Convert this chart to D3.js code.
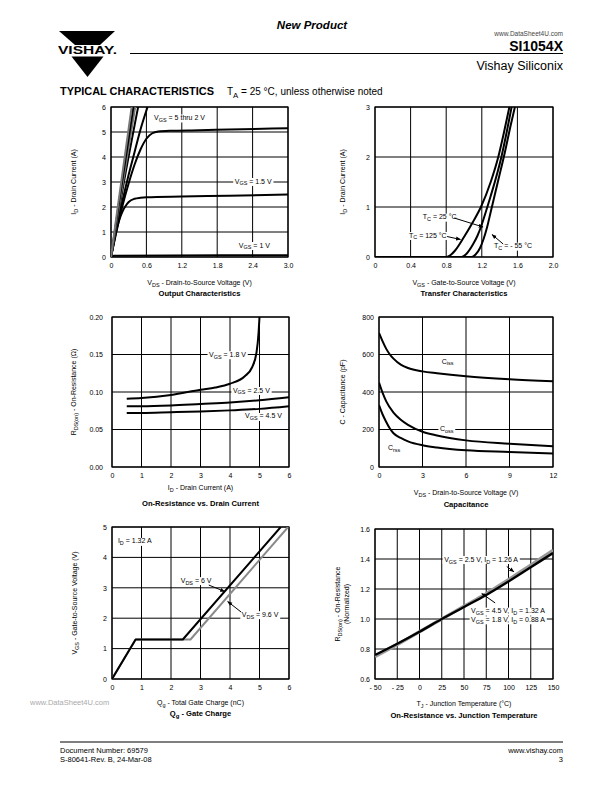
<!DOCTYPE html>
<html><head><meta charset="utf-8">
<script src="https://cdn.jsdelivr.net/npm/d3@7"></script>
<style>body{margin:0;background:#fff} svg{display:block}</style>
</head><body>
<svg id="page" width="612" height="792"></svg>
<script>
// ---------- DATA ----------
// Output characteristics (VDS V, ID A)
const outVgs5  = [[0,0],[0.1,1.75],[0.2,3.45],[0.35,6]];
const outVgs45 = [[0,0],[0.1,1.6],[0.2,3.2],[0.38,6]];
const outVgs35 = [[0,0],[0.1,1.5],[0.2,2.95],[0.41,6]];
const outVgs25 = [[0,0],[0.1,1.4],[0.2,2.75],[0.46,6]];
const outVgs2  = [[0,0],[0.1,1.2],[0.2,2.3],[0.3,3.3],[0.4,4.2],[0.5,5.1],[0.62,6]];
const outVgs18 = [[0,0],[0.1,1.1],[0.2,2.1],[0.3,2.95],[0.4,3.7],[0.5,4.3],[0.6,4.73],[0.7,4.95],[0.8,5.02],[1.0,5.05],[1.5,5.07],[2.0,5.1],[3.0,5.15]];
const outVgs15 = [[0,0],[0.05,0.6],[0.1,1.15],[0.15,1.55],[0.2,1.85],[0.25,2.05],[0.3,2.2],[0.4,2.33],[0.5,2.37],[0.6,2.39],[1.2,2.42],[2.0,2.45],[3.0,2.5]];
const outVgs1  = [[0,0],[0.05,0.05],[1.0,0.06],[3.0,0.07]];
const outXTicks = [0,0.6,1.2,1.8,2.4,3.0];
const outXLabels = ["0","0.6","1.2","1.8","2.4","3.0"];
const outYTicks = [0,1,2,3,4,5,6];

// Transfer characteristics (VGS V, ID A)
const tr125 = [[0,0],[0.8,0],[0.85,0.04],[0.9,0.13],[1.0,0.4],[1.1,0.7],[1.19,1.0],[1.3,1.5],[1.385,2.0],[1.45,2.5],[1.51,3.0]];
const tr25  = [[0,0],[0.97,0],[1.02,0.05],[1.1,0.25],[1.15,0.42],[1.2,0.65],[1.25,0.93],[1.3,1.22],[1.42,2.0],[1.48,2.5],[1.535,3.0]];
const trM55 = [[0,0],[1.085,0],[1.13,0.05],[1.18,0.18],[1.22,0.36],[1.26,0.6],[1.3,0.9],[1.38,1.5],[1.46,2.1],[1.52,2.6],[1.572,3.0]];
const trXTicks = [0,0.4,0.8,1.2,1.6,2.0];
const trXLabels = ["0","0.4","0.8","1.2","1.6","2.0"];
const trYTicks = [0,1,2,3];

// On-resistance vs drain current (ID A, RDS ohm)
const rds18 = [[0.5,0.091],[1,0.092],[2,0.096],[3,0.103],[3.5,0.106],[4,0.111],[4.5,0.121],[4.75,0.133],[4.9,0.153],[4.97,0.18],[5.0,0.20]];
const rds25 = [[0.5,0.081],[1,0.081],[2,0.082],[3,0.084],[4,0.086],[5,0.089],[6,0.093]];
const rds45 = [[0.5,0.072],[1,0.072],[2,0.073],[3,0.074],[4,0.0755],[5,0.0775],[6,0.081]];
const rdsXTicks = [0,1,2,3,4,5,6];
const rdsYTicks = [0,0.05,0.10,0.15,0.20];
const rdsYLabels = ["0.00","0.05","0.10","0.15","0.20"];

// Capacitance (VDS V, C pF)
const ciss = [[0,715],[0.25,670],[0.5,630],[0.75,600],[1,578],[1.5,546],[2,528],[3,510],[4,500],[6,484],[9,468],[12,457]];
const coss = [[0,450],[0.25,395],[0.5,350],[1,290],[1.5,252],[2,225],[3,188],[4,168],[6,142],[9,124],[12,110]];
const crss = [[0,330],[0.25,280],[0.5,240],[0.75,205],[1,180],[1.5,155],[2,137],[3,116],[4,104],[6,89],[9,80],[12,72]];
const capXTicks = [0,3,6,9,12];
const capYTicks = [0,200,400,600,800];

// Gate charge (Qg nC, VGS V)
const gcVds6  = [[0,0],[0.8,1.3],[2.4,1.3],[5.72,5]];
const gcVds96 = [[0,0],[0.8,1.3],[2.66,1.3],[5.97,5]];
const gcXTicks = [0,1,2,3,4,5,6];
const gcYTicks = [0,1,2,3,4,5];

// On-resistance vs junction temperature (TJ °C, normalized)
const tjVgs45 = [[-50,0.76],[-25,0.835],[0,0.915],[25,1.0],[50,1.08],[75,1.16],[100,1.25],[125,1.345],[150,1.44]];
const tjVgs25 = [[-50,0.75],[-25,0.83],[0,0.915],[25,1.0],[50,1.085],[75,1.17],[100,1.262],[125,1.36],[150,1.458]];
const tjXTicks = [-50,-25,0,25,50,75,100,125,150];
const tjXLabels = ["- 50","- 25","0","25","50","75","100","125","150"];
const tjYTicks = [0.6,0.8,1.0,1.2,1.4,1.6];
const tjYLabels = ["0.6","0.8","1.0","1.2","1.4","1.6"];

// ---------- DRAWING ----------
const FONT = "'Liberation Sans', Arial, Helvetica, sans-serif";
const svg = d3.select('#page');
const defs = svg.append('defs');
defs.append('marker').attr('id','arr').attr('viewBox','0 0 10 10').attr('refX',9).attr('refY',5)
  .attr('markerWidth',5).attr('markerHeight',5).attr('orient','auto')
  .append('path').attr('d','M0,1 L10,5 L0,9 z').attr('fill','#000');

function rich(g, str, fs, opts = {}) {
  const t = g.append('text').attr('font-size', fs).attr('font-family', FONT).attr('fill', opts.fill || '#000');
  if (opts.weight) t.attr('font-weight', opts.weight);
  if (opts.style) t.attr('font-style', opts.style);
  if (opts.anchor) t.attr('text-anchor', opts.anchor);
  const parts = str.split(/(_\{[^}]*\})/).filter(p => p.length);
  let low = false;
  parts.forEach(p => {
    if (p.startsWith('_{')) {
      t.append('tspan').attr('font-size', fs * 0.78).attr('dy', fs * 0.28).text(p.slice(2, -1));
      low = true;
    } else {
      const s = t.append('tspan').text(p);
      if (low) { s.attr('dy', -fs * 0.28); low = false; }
    }
  });
  return t;
}

function label(g, x, y, str, fs, anchor, bg) {
  const t = rich(g, str, fs, {anchor: anchor || 'start'}).attr('x', x).attr('y', y);
  if (bg) {
    const b = t.node().getBBox();
    g.insert('rect', () => t.node()).attr('x', b.x - 1.5).attr('y', b.y + 0.5)
      .attr('width', b.width + 3).attr('height', b.height - 1).attr('fill', '#fff');
  }
  return t;
}

function buildChart(c) {
  const g = svg.append('g');
  const x = d3.scaleLinear().domain(c.xDomain).range([c.left, c.right]);
  const y = d3.scaleLinear().domain(c.yDomain).range([c.bottom, c.top]);
  g.append('g').selectAll('line').data(c.xTicks).join('line')
    .attr('x1', d => x(d)).attr('x2', d => x(d)).attr('y1', c.top).attr('y2', c.bottom)
    .attr('stroke', '#000').attr('stroke-width', 1);
  g.append('g').selectAll('line').data(c.yTicks).join('line')
    .attr('y1', d => y(d)).attr('y2', d => y(d)).attr('x1', c.left).attr('x2', c.right)
    .attr('stroke', '#000').attr('stroke-width', 1);
  g.append('rect').attr('x', c.left).attr('y', c.top).attr('width', c.right - c.left)
    .attr('height', c.bottom - c.top).attr('fill', 'none').attr('stroke', '#000').attr('stroke-width', 1.2);
  const xl = c.xLabels || c.xTicks.map(String);
  const yl = c.yLabels || c.yTicks.map(String);
  const ax = g.append('g').attr('transform', `translate(0,${c.bottom})`)
    .call(d3.axisBottom(x).tickValues(c.xTicks).tickFormat((d, i) => xl[i]).tickSize(0).tickPadding(c.xPad || 6));
  ax.select('.domain').remove();
  ax.attr('font-size', 7).attr('font-family', FONT);
  const ay = g.append('g').attr('transform', `translate(${c.left},0)`)
    .call(d3.axisLeft(y).tickValues(c.yTicks).tickFormat((d, i) => yl[i]).tickSize(0).tickPadding(c.yPad || 5));
  ay.select('.domain').remove();
  ay.attr('font-size', 7).attr('font-family', FONT);
  // titles
  const cx = (c.left + c.right) / 2;
  rich(g, c.xTitle, 7, {anchor: 'middle'}).attr('x', cx + (c.xTitleDx || 0)).attr('y', c.xTitleY);
  rich(g, c.title, 7.6, {anchor: 'middle', weight: 'bold'}).attr('x', cx + (c.titleDx || 0)).attr('y', c.titleY);
  const cy = (c.top + c.bottom) / 2;
  c.yTitle.forEach((s, i) => {
    rich(g, s, 7, {anchor: 'middle'}).attr('transform', `translate(${c.yTitleX[i]},${cy}) rotate(-90)`);
  });
  const id = 'clip' + c.id;
  defs.append('clipPath').attr('id', id).append('rect')
    .attr('x', c.left).attr('y', c.top).attr('width', c.right - c.left).attr('height', c.bottom - c.top);
  const labels = g.append('g');
  const plot = g.append('g').attr('clip-path', `url(#${id})`);
  const ann = g.append('g');
  return {g, x, y, plot, labels, ann};
}

function series(ch, data, color, width, curve) {
  const line = d3.line().x(d => ch.x(d[0])).y(d => ch.y(d[1])).curve(curve || d3.curveMonotoneX);
  ch.plot.append('path').datum(data).attr('d', line).attr('fill', 'none')
    .attr('stroke', color).attr('stroke-width', width).attr('stroke-linejoin', 'round');
}
function lab(ch, dx, dy, str, anchor, bg) { return label(ch.labels, ch.x(dx), ch.y(dy), str, 7, anchor, bg); }
function arrow(ch, a, b) {
  ch.ann.append('line').attr('x1', ch.x(a[0])).attr('y1', ch.y(a[1])).attr('x2', ch.x(b[0])).attr('y2', ch.y(b[1]))
    .attr('stroke', '#000').attr('stroke-width', 1).attr('marker-end', 'url(#arr)');
}

// ---- Chart 1: Output characteristics
const c1 = buildChart({id: 1, left: 111, right: 288, top: 107, bottom: 257, xDomain: [0, 3], yDomain: [0, 6],
  xTicks: outXTicks, xLabels: outXLabels, yTicks: outYTicks,
  xTitle: 'V_{DS} - Drain-to-Source Voltage (V)', xTitleY: 285, title: 'Output Characteristics', titleY: 296,
  yTitle: ['I_{D} - Drain Current (A)'], yTitleX: [76]});
lab(c1, 0.73, 5.48, 'V_{GS} = 5 thru 2 V', 'start', true);
lab(c1, 2.41, 2.94, 'V_{GS} = 1.5 V', 'middle', true);
lab(c1, 2.43, 0.38, 'V_{GS} = 1 V', 'middle', true);
series(c1, outVgs1, '#000', 2);
series(c1, outVgs15, '#000', 2);
series(c1, outVgs18, '#000', 2);
series(c1, outVgs2, '#000', 2);
series(c1, outVgs25, '#000', 2);
series(c1, outVgs35, '#777', 2);
series(c1, outVgs45, '#000', 2);
series(c1, outVgs5, '#777', 2);

// ---- Chart 2: Transfer characteristics
const c2 = buildChart({id: 2, left: 375, right: 553, top: 107, bottom: 257, xDomain: [0, 2], yDomain: [0, 3],
  xTicks: trXTicks, xLabels: trXLabels, yTicks: trYTicks,
  xTitle: 'V_{GS} - Gate-to-Source Voltage (V)', xTitleY: 285, title: 'Transfer Characteristics', titleY: 296,
  yTitle: ['I_{D} - Drain Current (A)'], yTitleX: [345]});
lab(c2, 0.536, 0.756, 'T_{C} = 25 °C', 'start', true);
lab(c2, 0.382, 0.39, 'T_{C} = 125 °C', 'start', true);
lab(c2, 1.337, 0.176, 'T_{C} = - 55 °C', 'start', true);
series(c2, trM55, '#000', 2);
series(c2, tr25, '#000', 2);
series(c2, tr125, '#000', 2);
arrow(c2, [0.89, 0.78], [1.215, 0.6]);
arrow(c2, [0.81, 0.41], [0.96, 0.35]);
arrow(c2, [1.44, 0.26], [1.315, 0.45]);

// ---- Chart 3: On-resistance vs drain current
const c3 = buildChart({id: 3, left: 112, right: 289, top: 317, bottom: 467, xDomain: [0, 6], yDomain: [0, 0.2],
  xTicks: rdsXTicks, yTicks: rdsYTicks, yLabels: rdsYLabels, yPad: 9,
  xTitle: 'I_{D} - Drain Current (A)', xTitleY: 490, title: 'On-Resistance vs. Drain Current', titleY: 506,
  yTitle: ['R_{DS(on)} - On-Resistance (Ω)'], yTitleX: [76]});
lab(c3, 3.29, 0.147, 'V_{GS} = 1.8 V', 'start', true);
lab(c3, 4.1, 0.0993, 'V_{GS} = 2.5 V', 'start', true);
lab(c3, 4.51, 0.0647, 'V_{GS} = 4.5 V', 'start', true);
series(c3, rds18, '#000', 2);
series(c3, rds25, '#000', 2);
series(c3, rds45, '#000', 2);

// ---- Chart 4: Capacitance
const c4 = buildChart({id: 4, left: 379, right: 553, top: 317, bottom: 467, xDomain: [0, 12], yDomain: [0, 800],
  xTicks: capXTicks, yTicks: capYTicks,
  xTitle: 'V_{DS} - Drain-to-Source Voltage (V)', xTitleY: 495, title: 'Capacitance', titleY: 507,
  yTitle: ['C - Capacitance (pF)'], yTitleX: [345]});
lab(c4, 4.32, 552, 'C_{iss}', 'start', true);
lab(c4, 4.2, 192, 'C_{oss}', 'start', true);
lab(c4, 0.62, 89.6, 'C_{rss}', 'start', true);
series(c4, ciss, '#000', 2);
series(c4, coss, '#000', 2);
series(c4, crss, '#000', 2);

// ---- Chart 5: Gate charge
const c5 = buildChart({id: 5, left: 112, right: 289, top: 527, bottom: 679, xDomain: [0, 6], yDomain: [0, 5],
  xTicks: gcXTicks, yTicks: gcYTicks,
  xTitle: 'Q_{g} - Total Gate Charge (nC)', xTitleY: 705, title: 'Q_{g} - Gate Charge', titleY: 716,
  yTitle: ['V_{GS} - Gate-to-Source Voltage (V)'], yTitleX: [77]});
lab(c5, 0.2, 4.46, 'I_{D} = 1.32 A', 'start', true);
lab(c5, 2.33, 3.17, 'V_{DS} = 6 V', 'start', true);
lab(c5, 4.4, 2.05, 'V_{DS} = 9.6 V', 'start', true);
series(c5, gcVds96, '#8a8a8a', 2, d3.curveLinear);
series(c5, gcVds6, '#000', 2, d3.curveLinear);
arrow(c5, [3.28, 3.09], [3.82, 2.88]);
arrow(c5, [4.38, 2.2], [3.92, 2.55]);

// ---- Chart 6: On-resistance vs junction temperature
const c6 = buildChart({id: 6, left: 375, right: 553, top: 529, bottom: 679, xDomain: [-50, 150], yDomain: [0.6, 1.6],
  xTicks: tjXTicks, xLabels: tjXLabels, yTicks: tjYTicks, yLabels: tjYLabels,
  xTitle: 'T_{J} - Junction Temperature (°C)', xTitleY: 706, title: 'On-Resistance vs. Junction Temperature', titleY: 718,
  yTitle: ['R_{DS(on)} - On-Resistance', '(Normalized)'], yTitleX: [340, 349]});
lab(c6, 110.7, 1.383, 'V_{GS} = 2.5 V, I_{D} = 1.26 A', 'end', true);
lab(c6, 141, 1.039, 'V_{GS} = 4.5 V, I_{D} = 1.32 A', 'end', true);
lab(c6, 141, 0.981, 'V_{GS} = 1.8 V, I_{D} = 0.88 A', 'end', true);
series(c6, tjVgs25, '#999', 3.2);
series(c6, tjVgs45, '#000', 2.4);
arrow(c6, [98, 1.35], [106, 1.315]);
arrow(c6, [85, 1.107], [70, 1.17]);

// ---------- PAGE HEADER / FOOTER ----------
const hdr = svg.append('g');
hdr.append('text').attr('x', 312).attr('y', 29).attr('text-anchor', 'middle').attr('font-family', FONT)
  .attr('font-weight', 'bold').attr('font-style', 'italic').attr('font-size', 11.5).text('New Product');
// logo
hdr.append('path').attr('d', 'M59,31 L115,31 L100,45 L75,45 Z').attr('fill', '#000');
hdr.append('path').attr('d', 'M71.5,56.5 L103.5,56.5 L87.5,77 Z').attr('fill', '#000');
hdr.append('text').attr('x', 58).attr('y', 54).attr('font-family', FONT).attr('font-weight', 'bold')
  .attr('font-size', 11).attr('textLength', 59).attr('lengthAdjust', 'spacingAndGlyphs').text('VISHAY.');
hdr.append('line').attr('x1', 130).attr('x2', 563).attr('y1', 53.5).attr('y2', 53.5).attr('stroke', '#000').attr('stroke-width', 1.2);
hdr.append('text').attr('x', 563).attr('y', 51).attr('text-anchor', 'end').attr('font-family', FONT)
  .attr('font-weight', 'bold').attr('font-size', 14).text('SI1054X');
hdr.append('text').attr('x', 563).attr('y', 35.5).attr('text-anchor', 'end').attr('font-family', FONT)
  .attr('font-size', 6.5).attr('fill', '#444').text('www.DataSheet4U.com');
hdr.append('text').attr('x', 563).attr('y', 70).attr('text-anchor', 'end').attr('font-family', FONT)
  .attr('font-size', 12.5).text('Vishay Siliconix');
hdr.append('text').attr('x', 60).attr('y', 95).attr('font-family', FONT).attr('font-weight', 'bold')
  .attr('font-size', 10.5).attr('textLength', 154).attr('lengthAdjust', 'spacingAndGlyphs').text('TYPICAL CHARACTERISTICS');
rich(hdr, 'T_{A} = 25 °C, unless otherwise noted', 10).attr('x', 227).attr('y', 95);

// watermark
svg.append('text').attr('x', 30).attr('y', 705).attr('font-family', FONT).attr('font-size', 7.5)
  .attr('fill', '#aaa').text('www.DataSheet4U.com');

// footer
const ftr = svg.append('g').attr('font-family', FONT).attr('font-size', 7.5);
ftr.append('line').attr('x1', 60).attr('x2', 563).attr('y1', 742).attr('y2', 742).attr('stroke', '#000').attr('stroke-width', 1);
ftr.append('text').attr('x', 60).attr('y', 753).text('Document Number: 69579');
ftr.append('text').attr('x', 60).attr('y', 762).text('S-80641-Rev. B, 24-Mar-08');
ftr.append('text').attr('x', 563).attr('y', 753).attr('text-anchor', 'end').text('www.vishay.com');
ftr.append('text').attr('x', 563).attr('y', 762).attr('text-anchor', 'end').text('3');
</script>
</body></html>
